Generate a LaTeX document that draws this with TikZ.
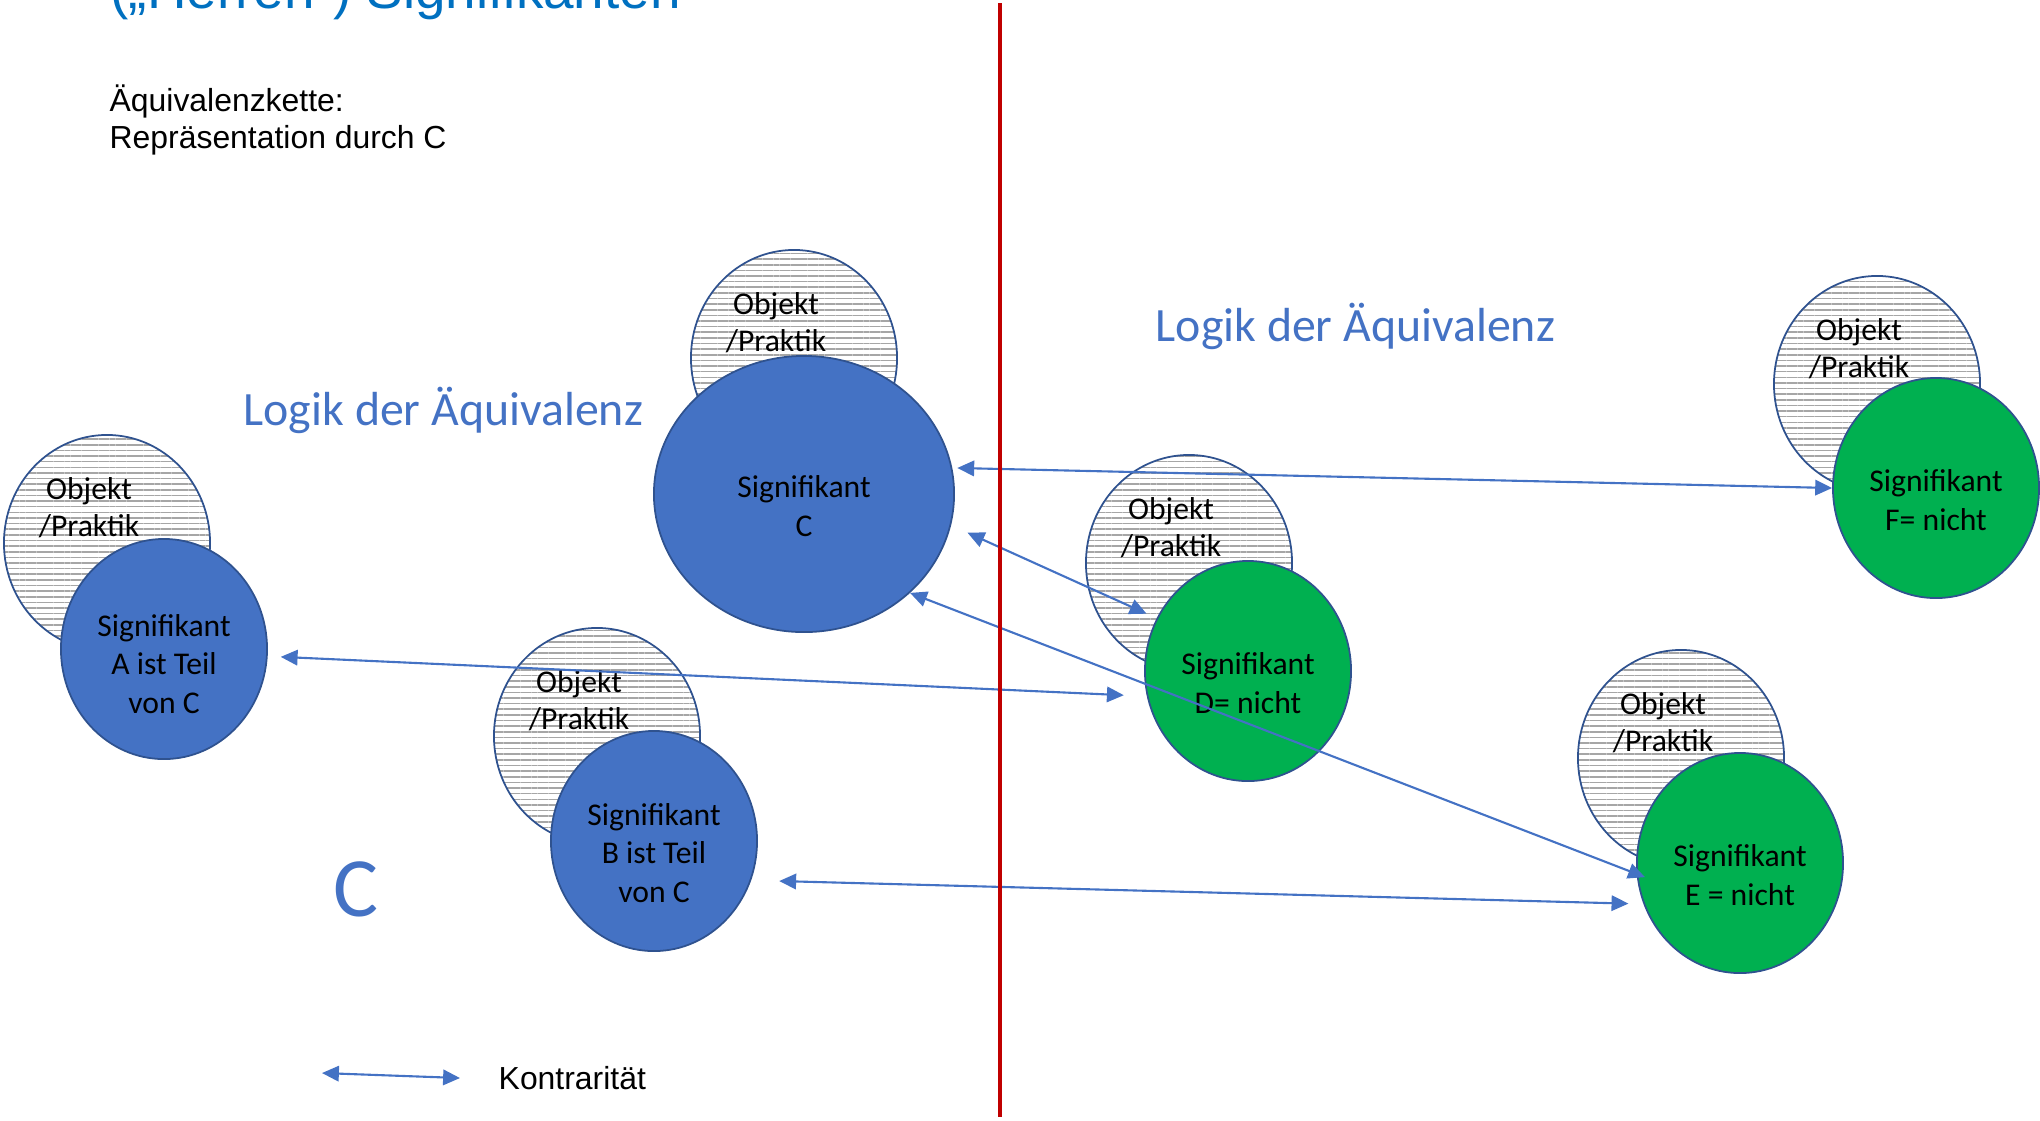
\documentclass[tikz,border=0pt]{standalone}
\usepackage{fontspec}
\setmainfont{Carlito}
\newfontfamily\arialFont{Liberation Sans}
\usepackage{xcolor}
\usepackage{tikz}
\usetikzlibrary{shapes.geometric,patterns.meta,arrows.meta,positioning}
\definecolor{sigBlue}{HTML}{4472C4}
\definecolor{sigGreen}{HTML}{00B050}
\definecolor{outlineBlue}{HTML}{2F528F}
\definecolor{hatchGray}{HTML}{A6A6A6}
\definecolor{dividerRed}{HTML}{C00000}
\definecolor{titleBlue}{HTML}{0070C0}
\newcommand{\circleWidth}{2.06cm}
\newcommand{\circleHeight}{2.2cm}
\newcommand{\textDrop}{3.4pt}

\begin{document}
\begin{tikzpicture}[x=0.01cm,y=-0.01cm,
	obj/.style={ellipse,draw=outlineBlue,line width=0.5pt,preaction={fill=white},pattern={Lines[angle=0,distance=1.6pt,line width=0.45pt]},pattern color=hatchGray,minimum width=\circleWidth,minimum height=2.16cm,inner sep=0pt},
	objtext/.style={align=center,inner sep=0pt,font=\fontsize{9}{10.6}\selectfont},
	sig/.style={ellipse,draw=outlineBlue,line width=0.5pt,minimum width=\circleWidth,minimum height=\circleHeight,inner sep=0pt},
	sigtext/.style={align=center,inner sep=0pt,font=\fontsize{9}{10.9}\selectfont},
	logic/.style={anchor=base west,inner sep=0pt,text=sigBlue,font=\fontsize{13.6}{16}\selectfont},
	contra/.style={<->,>={Triangle[length=4.8pt,width=4.4pt]},draw=sigBlue,line width=0.6pt}]
	\useasboundingbox (0,0) rectangle (2040,1120);

	% heading and notes
	\node[anchor=base west,inner sep=0pt,text=titleBlue,font=\arialFont\fontsize{15.6}{18}\selectfont] (title) at (110,8) {(„Herren“) Signifikanten};
	\node[anchor=west,inner sep=0pt,align=left,font=\arialFont\fontsize{9.07}{10.3}\selectfont] (chain) at (109,120) {Äquivalenzkette:\\Repräsentation durch C};
	\node[logic] (logicL) at (243,425) {Logik der Äquivalenz};
	\node[logic] (logicR) at (1155,341) {Logik der Äquivalenz};
	\node[inner sep=0pt,text=sigBlue,font=\fontsize{24}{28}\selectfont] (bigC) at (356,889) {C};

	% left side
	\node[obj] (objA) at (107,543) {};
	\node[objtext] (objAtext) at ([shift={(-18,-35)}]objA.center) {Objekt\\/Praktik};
	\node[sig,fill=sigBlue] (sigA) at (164,649) {};
	\node[sigtext] (sigAtext) at ([yshift=-4.2pt]sigA.center) {Signifikant\\A ist Teil\\von C};

	\node[obj] (objC) at (794,358) {};
	\node[objtext] (objCtext) at ([shift={(-18,-35)}]objC.center) {Objekt\\/Praktik};
	\node[sig,fill=sigBlue,minimum width=3.0cm,minimum height=2.76cm] (sigC) at (804,494) {};
	\node[sigtext] (sigCtext) at ([yshift=-\textDrop]sigC.center) {Signifikant\\C};

	\node[obj] (objB) at (597,736) {};
	\node[objtext] (objBtext) at ([shift={(-18,-35)}]objB.center) {Objekt\\/Praktik};
	\node[sig,fill=sigBlue] (sigB) at (654,841) {};
	\node[sigtext] (sigBtext) at ([yshift=-\textDrop]sigB.center) {Signifikant\\B ist Teil\\von C};

	% right side
	\node[obj] (objD) at (1189,563) {};
	\node[objtext] (objDtext) at ([shift={(-18,-35)}]objD.center) {Objekt\\/Praktik};
	\node[sig,fill=sigGreen] (sigD) at (1248,671) {};
	\node[sigtext] (sigDtext) at ([yshift=-\textDrop]sigD.center) {Signifikant\\D= nicht};

	\node[obj] (objE) at (1681,758) {};
	\node[objtext] (objEtext) at ([shift={(-18,-35)}]objE.center) {Objekt\\/Praktik};
	\node[sig,fill=sigGreen] (sigE) at (1740,863) {};
	\node[sigtext] (sigEtext) at ([yshift=-\textDrop]sigE.center) {Signifikant\\E = nicht};

	\node[obj] (objF) at (1877,384) {};
	\node[objtext] (objFtext) at ([shift={(-18,-35)}]objF.center) {Objekt\\/Praktik};
	\node[sig,fill=sigGreen] (sigF) at (1936,488) {};
	\node[sigtext] (sigFtext) at ([yshift=-\textDrop]sigF.center) {Signifikant\\F= nicht};

	% contrariety
	\draw[contra,shorten <=0.05cm] (sigC.10) -- (sigF.west);
	\draw[contra,shorten <=0.18cm,shorten >=0.11cm] (sigC.-12) -- (sigD.150);
	\draw[contra,shorten >=-0.09cm] (sigC.-43) -- (sigE.186);
	\draw[contra,shorten <=0.13cm,shorten >=0.23cm] (sigA.-4) -- (sigD.194);
	\draw[contra,shorten <=0.28cm,shorten >=0.15cm] (sigB.-22) -- (sigE.203);

	% legend
	\coordinate (legL) at (322,1073);
	\coordinate (legR) at (460,1078);
	\draw[contra] (legL) -- (legR);
	\node[anchor=west,inner sep=0pt,font=\arialFont\fontsize{9.07}{11}\selectfont,right=0.38cm of legR] (legText) {Kontrarität};

	% divider
	\coordinate (divTop) at (1000,3);
	\coordinate (divBot) at (1000,1117);
	\draw[dividerRed,line width=1.1pt] (divTop) -- (divBot);
\end{tikzpicture}
\end{document}
